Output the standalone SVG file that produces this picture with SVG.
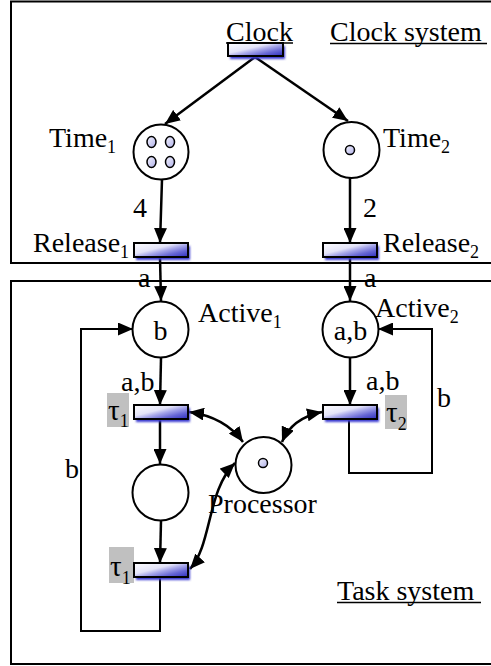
<svg xmlns="http://www.w3.org/2000/svg" width="491" height="666" viewBox="0 0 491 666">
<style>
text{font-family:"Liberation Serif","Times New Roman",serif;font-size:28px;fill:#000}
.sub{font-size:18px}
.tau{font-size:29px}
.frame{fill:none;stroke:#000;stroke-width:2}
.place{fill:#fff;stroke:#000;stroke-width:2}
.trans{fill:url(#tg);stroke:#000;stroke-width:2}
.shadow{fill:#3a3ad0;filter:url(#blur)}
.tok{fill:url(#kg);stroke:#000;stroke-width:1.5}
.arc{fill:none;stroke:#000;stroke-width:2.5}
.thin{fill:none;stroke:#000;stroke-width:2}
.ul{stroke:#000;stroke-width:1.3}
.tb{fill:#c0c0c0}
</style>
<defs>
<linearGradient id="tg" x1="0" y1="0" x2="1" y2="1">
<stop offset="0" stop-color="#ffffff"/>
<stop offset="0.4" stop-color="#e4e4f8"/>
<stop offset="0.55" stop-color="#a8a8ea"/>
<stop offset="0.75" stop-color="#6666d4"/>
<stop offset="1" stop-color="#2c2cbc"/>
</linearGradient>
<linearGradient id="kg" x1="0" y1="0" x2="1" y2="1">
<stop offset="0" stop-color="#f4f4ff"/>
<stop offset="1" stop-color="#b0b0e8"/>
</linearGradient>
<filter id="blur" x="-20%" y="-50%" width="140%" height="200%"><feGaussianBlur stdDeviation="1.2"/></filter>
<marker id="ah" viewBox="0 0 15 13" refX="15" refY="6.5" markerWidth="15" markerHeight="13" markerUnits="userSpaceOnUse" orient="auto-start-reverse">
<path d="M0,0 L15,6.5 L0,13 Z" fill="#000"/>
</marker>
</defs>
<rect fill="#fff" x="0" y="0" width="491" height="666"/>
<g id="frames">
<rect class="frame" x="11" y="1.5" width="490" height="261.5"/>
<rect class="frame" x="11" y="281" width="490" height="383"/>
</g>
<g id="connectors">
<path class="arc" d="M255,57 L165,124" marker-end="url(#ah)"/>
<path class="arc" d="M255,57 L348,121" marker-end="url(#ah)"/>
<path class="arc" d="M162,180 L160,243" marker-end="url(#ah)"/>
<path class="arc" d="M350,178 L350,243" marker-end="url(#ah)"/>
<path class="arc" d="M160,258 L161,301" marker-end="url(#ah)"/>
<path class="arc" d="M350,258 L350,301" marker-end="url(#ah)"/>
<path class="arc" d="M161,358 L160,405" marker-end="url(#ah)"/>
<path class="arc" d="M350,357 L350,405" marker-end="url(#ah)"/>
<path class="arc" d="M160,419 L160,464" marker-end="url(#ah)"/>
<path class="arc" d="M161,521 L160,563" marker-end="url(#ah)"/>
<path class="thin" d="M160,578 L160,631 L81,631 L81,329 L133,329" marker-end="url(#ah)"/>
<path class="thin" d="M349,419 L349,473 L432,473 L432,329 L378,329" marker-end="url(#ah)"/>
<path class="arc" d="M189,412 Q225,417 243,442" marker-start="url(#ah)" marker-end="url(#ah)"/>
<path class="arc" d="M322,412 Q292,418 282,442" marker-start="url(#ah)" marker-end="url(#ah)"/>
<path class="arc" d="M190,569 C212,545 207,490 235,463" marker-start="url(#ah)" marker-end="url(#ah)"/>
</g>
<g id="clock">
<rect class="shadow" x="230" y="46" width="55" height="13"/>
<rect class="trans" x="228" y="43" width="55" height="13"/>
<text x="226" y="41">Clock</text>
<line class="ul" x1="226" y1="43" x2="293" y2="43"/>
</g>
<g id="clock-system-label">
<text x="330" y="41">Clock system</text>
<line class="ul" x1="330" y1="43.5" x2="487" y2="43.5"/>
</g>
<g id="time1">
<circle class="place" cx="161" cy="152" r="27.5"/>
<ellipse class="tok" cx="151.5" cy="142" rx="4.5" ry="5.5"/>
<ellipse class="tok" cx="170" cy="142" rx="4.5" ry="5.5"/>
<ellipse class="tok" cx="151.5" cy="162" rx="4.5" ry="5.5"/>
<ellipse class="tok" cx="170" cy="162" rx="4.5" ry="5.5"/>
<text x="49" y="147">Time<tspan class="sub" dy="6">1</tspan></text>
</g>
<g id="time2">
<circle class="place" cx="351.5" cy="150" r="28"/>
<circle class="tok" cx="350" cy="150" r="4.5"/>
<text x="383" y="147">Time<tspan class="sub" dy="6">2</tspan></text>
</g>
<g id="arc-labels">
<text x="133" y="217">4</text>
<text x="363" y="217">2</text>
<text x="138" y="287">a</text>
<text x="364" y="287">a</text>
<text x="121" y="391">a,b</text>
<text x="366" y="390">a,b</text>
<text x="437" y="407">b</text>
<text x="65" y="478">b</text>
</g>
<g id="release1">
<rect class="shadow" x="136" y="246" width="54" height="14"/>
<rect class="trans" x="134" y="243" width="54" height="14"/>
<text x="33" y="252">Release<tspan class="sub" dy="6">1</tspan></text>
</g>
<g id="release2">
<rect class="shadow" x="325" y="246" width="54" height="14"/>
<rect class="trans" x="323" y="243" width="54" height="14"/>
<text x="383" y="252">Release<tspan class="sub" dy="6">2</tspan></text>
</g>
<g id="active1">
<circle class="place" cx="160.5" cy="329.5" r="28"/>
<text x="160.5" y="340" text-anchor="middle">b</text>
<text x="198" y="322">Active<tspan class="sub" dy="6">1</tspan></text>
</g>
<g id="active2">
<circle class="place" cx="350.5" cy="329.5" r="28"/>
<text x="350.5" y="340" text-anchor="middle">a,b</text>
<text x="375" y="317">Active<tspan class="sub" dy="6">2</tspan></text>
</g>
<g id="tau1-upper">
<rect class="tb" x="107" y="393" width="22" height="34"/>
<rect class="shadow" x="136" y="408" width="54" height="14"/>
<rect class="trans" x="134" y="405" width="54" height="14"/>
<text class="tau" x="108" y="420">τ<tspan class="sub" dy="7">1</tspan></text>
</g>
<g id="tau2">
<rect class="tb" x="385" y="395" width="22" height="34"/>
<rect class="shadow" x="325" y="408" width="54" height="14"/>
<rect class="trans" x="323" y="405" width="54" height="14"/>
<text class="tau" x="386" y="422">τ<tspan class="sub" dy="8">2</tspan></text>
</g>
<g id="middle-place">
<circle class="place" cx="160.5" cy="492.5" r="28"/>
</g>
<g id="tau1-lower">
<rect class="tb" x="109" y="547" width="25" height="36"/>
<rect class="shadow" x="136" y="566" width="54" height="14"/>
<rect class="trans" x="134" y="563" width="54" height="14"/>
<text class="tau" x="110" y="576">τ<tspan class="sub" dy="8">1</tspan></text>
</g>
<g id="processor">
<circle class="place" cx="263.5" cy="465" r="28"/>
<circle class="tok" cx="263" cy="463" r="4.5"/>
<text x="208" y="513">Processor</text>
</g>
<g id="task-system-label">
<text x="337" y="600">Task system</text>
<line class="ul" x1="337" y1="602.5" x2="481" y2="602.5"/>
</g>
</svg>
